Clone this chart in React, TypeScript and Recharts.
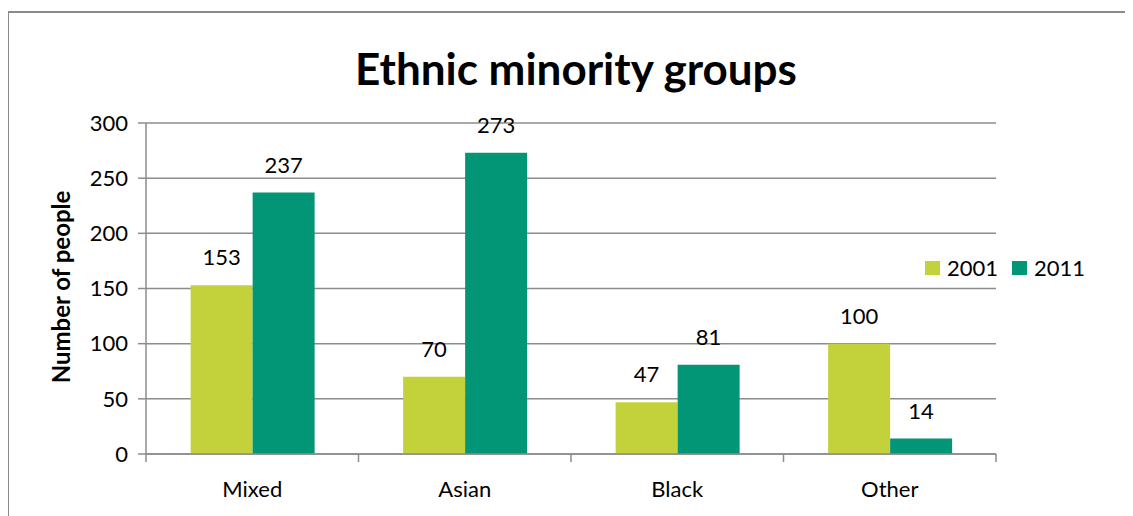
import React from 'react';
import { Bar, BarChart, CartesianGrid, LabelList, XAxis, YAxis } from 'recharts';

const categories = ['Mixed', 'Asian', 'Black', 'Other'];
const values2001 = [153, 70, 47, 100];
const values2011 = [237, 273, 81, 14];
const yTicks = [0, 50, 100, 150, 200, 250, 300];
const seriesNames = ['2001', '2011'];

const data = categories.map((name, i) => ({ name, y2001: values2001[i], y2011: values2011[i] }));

const FONT = 'Lato, "Open Sans", sans-serif';
const GRID = '#8c8c8c';
const LIME = '#c3d13a';
const TEAL = '#029676';
const colors = [LIME, TEAL];

function CategoryTick(props: any) {
  const { x, y, payload, index, visibleTicksCount } = props;
  const half = payload.offset ?? 106;
  const last = index === (visibleTicksCount ?? 4) - 1;
  return (
    <g>
      <line x1={x - half} x2={x - half} y1={y - 8} y2={y} stroke={GRID} strokeWidth={1.5} />
      {last && <line x1={x + half} x2={x + half} y1={y - 8} y2={y} stroke={GRID} strokeWidth={1.5} />}
      <text x={x} y={y + 35} textAnchor="middle" fontSize={22} fontFamily={FONT} fill="#000">
        {payload.value}
      </text>
    </g>
  );
}

export default function App() {
  return (
    <div style={{ position: 'relative', width: 1125, height: 508, overflow: 'hidden', background: '#fff' }}>
      <div
        style={{
          position: 'absolute',
          left: -1,
          top: 3,
          width: 2000,
          height: 2000,
          borderTop: '2px solid #8a8a8a',
          borderLeft: '2px solid #8a8a8a',
        }}
      />
      <BarChart
        width={1125}
        height={508}
        data={data}
        margin={{ top: 115, right: 137, left: 78, bottom: 32 }}
        barCategoryGap="21%"
        barGap={0}
        style={{ position: 'absolute', left: 0, top: 0 }}
      >
        <CartesianGrid vertical={false} stroke={GRID} strokeWidth={1.5} />
        <XAxis
          dataKey="name"
          height={30}
          axisLine={{ stroke: GRID, strokeWidth: 1.5 }}
          tickLine={false}
          tickSize={8}
          tickMargin={0}
          tick={<CategoryTick />}
          interval={0}
        />
        <YAxis
          width={60}
          domain={[0, 300]}
          ticks={yTicks}
          axisLine={{ stroke: GRID, strokeWidth: 1.5 }}
          tickLine={{ stroke: GRID, strokeWidth: 1.5 }}
          tickSize={8}
          tickMargin={10}
          tick={{ fontSize: 22, fontFamily: FONT, fill: '#000' }}
        />
        <Bar dataKey="y2001" name="2001" fill={LIME} isAnimationActive={false}>
          <LabelList dataKey="y2001" position="top" offset={20} fontSize={22} fontFamily={FONT} fill="#000" />
        </Bar>
        <Bar dataKey="y2011" name="2011" fill={TEAL} isAnimationActive={false}>
          <LabelList dataKey="y2011" position="top" offset={20} fontSize={22} fontFamily={FONT} fill="#000" />
        </Bar>
        <text x={568} y={77} textAnchor="middle" fontSize={44} fontWeight="bold" fontFamily={FONT} fill="#000">
          Ethnic minority groups
        </text>
        <text
          x={0}
          y={0}
          transform="translate(52, 279) rotate(-90)"
          textAnchor="middle"
          dominantBaseline="central"
          fontSize={24}
          fontWeight="bold"
          fontFamily={FONT}
          fill="#000"
        >
          Number of people
        </text>
      </BarChart>
      <div
        style={{
          position: 'absolute',
          left: 917,
          top: 249,
          display: 'flex',
          alignItems: 'center',
          fontFamily: FONT,
          fontSize: 22,
        }}
      >
        {seriesNames.map((label, i) => (
          <div key={label} style={{ display: 'flex', alignItems: 'center', marginRight: 14 }}>
            <span style={{ width: 15, height: 14, background: colors[i], display: 'inline-block', marginRight: 7 }} />
            <span style={{ lineHeight: '22px' }}>{label}</span>
          </div>
        ))}
      </div>
    </div>
  );
}
